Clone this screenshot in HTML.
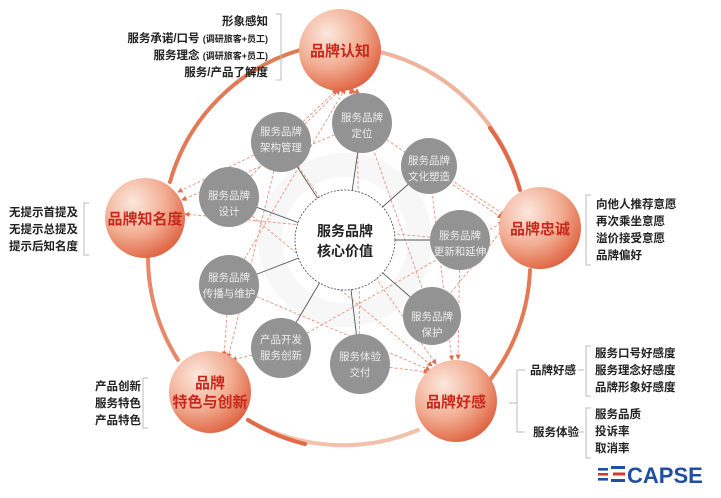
<!DOCTYPE html>
<html><head><meta charset="utf-8"><style>
body{margin:0;background:#fff;width:721px;height:493px;overflow:hidden;font-family:"Liberation Sans","Noto Sans CJK SC",sans-serif}
svg text{font-family:"Liberation Sans","Noto Sans CJK SC",sans-serif}
</style></head><body>
<svg width="721" height="493" viewBox="0 0 721 493" xmlns="http://www.w3.org/2000/svg">
<defs>
<radialGradient id="og" cx="35%" cy="30%" r="75%">
<stop offset="0" stop-color="#fce8de"/><stop offset="0.55" stop-color="#f2ad92"/><stop offset="1" stop-color="#de6240"/></radialGradient>
<marker id="ah" markerWidth="6" markerHeight="6" refX="5" refY="3" orient="auto"><path d="M0,0 L6,3 L0,6 z" fill="#e07050"/></marker>
</defs>
<g fill="none" stroke-width="4" stroke-linecap="round">
<path d="M300,50 A192,192 0 0 0 170,182" stroke="#e27a58"/>
<path d="M148,258 A192,192 0 0 0 178,360" stroke="#e8886a"/>
<path d="M248,420 A192,192 0 0 0 418,430" stroke="#f2c0ab"/>
<path d="M248,420 A192,192 0 0 0 305,444" stroke="#e06a48"/>
<path d="M490,380 A192,192 0 0 0 530,270" stroke="#e27a58"/>
<path d="M520,190 A192,192 0 0 0 380,52" stroke="#f0b49c"/>
<path d="M520,190 A192,192 0 0 0 490,128" stroke="#e06a48"/>
</g>
<circle cx="345" cy="240" r="75" fill="none" stroke="#f7f7f7" stroke-width="24"/>
<g stroke="#e8937a" stroke-width="0.9" stroke-dasharray="3,2" fill="none" marker-end="url(#ah)">
<line x1="281" y1="142" x2="337" y2="90"/>
<line x1="229" y1="197" x2="340" y2="90"/>
<line x1="229" y1="285" x2="345" y2="89"/>
<line x1="362" y1="123" x2="350" y2="89"/>
<line x1="432" y1="316" x2="352" y2="89"/>
<line x1="360" y1="364" x2="357" y2="89"/>
<line x1="281" y1="142" x2="178" y2="192"/>
<line x1="362" y1="123" x2="182" y2="200"/>
<line x1="460" y1="240" x2="185" y2="214"/>
<line x1="429" y1="166" x2="505" y2="215"/>
<line x1="362" y1="123" x2="502" y2="218"/>
<line x1="281" y1="348" x2="503" y2="222"/>
<line x1="432" y1="316" x2="506" y2="225"/>
<line x1="229" y1="285" x2="430" y2="370"/>
<line x1="229" y1="197" x2="432" y2="366"/>
<line x1="281" y1="142" x2="436" y2="364"/>
<line x1="429" y1="166" x2="452" y2="360"/>
<line x1="460" y1="240" x2="458" y2="359"/>
<line x1="360" y1="364" x2="428" y2="372"/>
<line x1="281" y1="142" x2="228" y2="358"/>
<line x1="229" y1="285" x2="224" y2="356"/>
<line x1="281" y1="348" x2="232" y2="360"/>
</g>
<g stroke="#555" stroke-width="0.9">
<line x1="345" y1="240" x2="362" y2="123"/><line x1="345" y1="240" x2="281" y2="142"/>
<line x1="345" y1="240" x2="429" y2="166"/><line x1="345" y1="240" x2="229" y2="197"/>
<line x1="345" y1="240" x2="460" y2="240"/><line x1="345" y1="240" x2="229" y2="285"/>
<line x1="345" y1="240" x2="432" y2="316"/><line x1="345" y1="240" x2="281" y2="348"/>
<line x1="345" y1="240" x2="360" y2="364"/>
</g>
<circle cx="345" cy="240" r="50" fill="#fff" stroke="#444" stroke-width="0.8" stroke-dasharray="2,1.5"/>
<text x="345" y="236" text-anchor="middle" font-size="14" font-weight="bold" fill="#222">服务品牌</text>
<text x="345" y="256" text-anchor="middle" font-size="14" font-weight="bold" fill="#222">核心价值</text>
<g fill="#939393">
<circle cx="362" cy="123" r="30"/><circle cx="281" cy="142" r="30"/><circle cx="429" cy="166" r="28"/>
<circle cx="229" cy="197" r="30"/><circle cx="460" cy="240" r="30"/><circle cx="229" cy="285" r="30"/>
<circle cx="432" cy="316" r="29"/><circle cx="281" cy="348" r="30"/><circle cx="360" cy="364" r="30"/>
</g>
<g fill="#eee" font-size="10.5" text-anchor="middle">
<text x="362" y="121">服务品牌</text><text x="362" y="137">定位</text>
<text x="281" y="135">服务品牌</text><text x="281" y="151">架构管理</text>
<text x="429" y="164">服务品牌</text><text x="429" y="180">文化塑造</text>
<text x="229" y="199">服务品牌</text><text x="229" y="215">设计</text>
<text x="460" y="239">服务品牌</text><text x="460" y="255">更新和延伸</text>
<text x="229" y="281">服务品牌</text><text x="229" y="297">传播与维护</text>
<text x="432" y="320">服务品牌</text><text x="432" y="336">保护</text>
<text x="281" y="343">产品开发</text><text x="281" y="359">服务创新</text>
<text x="360" y="360">服务体验</text><text x="360" y="376">交付</text>
</g>
<g fill="url(#og)">
<circle cx="340" cy="50" r="41"/><circle cx="540" cy="228" r="41"/><circle cx="456" cy="401" r="41"/>
<circle cx="210" cy="392" r="41"/><circle cx="145" cy="218" r="40"/>
</g>
<g fill="#c8281c" font-size="15" font-weight="bold" text-anchor="middle">
<text x="340" y="56">品牌认知</text><text x="540" y="234">品牌忠诚</text><text x="456" y="407">品牌好感</text>
<text x="210" y="388">品牌</text><text x="210" y="407">特色与创新</text><text x="145" y="224">品牌知名度</text>
</g>
<g fill="#222" font-size="11.5" font-weight="bold">
<g text-anchor="end">
<text x="268" y="25">形象感知</text>
<text x="268" y="42">服务承诺/口号 <tspan font-size="9">(调研旅客+员工)</tspan></text>
<text x="268" y="59"><tspan font-size="11.5">服务理念</tspan> <tspan font-size="9">(调研旅客+员工)</tspan></text>
<text x="268" y="76">服务/产品了解度</text>
</g>
<text x="9" y="216">无提示首提及</text><text x="9" y="233">无提示总提及</text><text x="9" y="250">提示后知名度</text>
<text x="596" y="208">向他人推荐意愿</text><text x="596" y="225">再次乘坐意愿</text><text x="596" y="242">溢价接受意愿</text><text x="596" y="259">品牌偏好</text>
<text x="95" y="390">产品创新</text><text x="95" y="407">服务特色</text><text x="95" y="424">产品特色</text>
<text x="595" y="357">服务口号好感度</text><text x="595" y="374">服务理念好感度</text><text x="595" y="391">品牌形象好感度</text>
<text x="595" y="418">服务品质</text><text x="595" y="435">投诉率</text><text x="595" y="452">取消率</text>
<text x="530" y="374">品牌好感</text><text x="533" y="436">服务体验</text>
</g>
<g fill="none" stroke="#bbb" stroke-width="1">
<path d="M276,14 h5 v66 h-5"/><path d="M89,203 h-5 v52 h5"/><path d="M591,195 h-5 v70 h5"/>
<path d="M148,378 h-5 v50 h5"/><path d="M591,346 h-5 v50 h5"/><path d="M591,408 h-5 v50 h5"/>
<path d="M509,403 h8 M525,370 h-8 v62 h8"/><path d="M578,370 h6 M578,432 h6"/>
</g>
<g>
<rect x="598" y="468" width="10" height="2.6" fill="#1f4ea3"/><rect x="598" y="473" width="10" height="2.6" fill="#d43a2a"/><rect x="598" y="478" width="10" height="2.6" fill="#1f4ea3"/>
<rect x="611" y="466" width="14" height="3" fill="#1f4ea3"/><rect x="613" y="472.5" width="12" height="3" fill="#d43a2a"/><rect x="611" y="479" width="14" height="3" fill="#1f4ea3"/>
<text x="627" y="483" font-size="22" font-weight="bold" fill="#1f4ea3">CAPSE</text>
</g>
</svg>
</body></html>
